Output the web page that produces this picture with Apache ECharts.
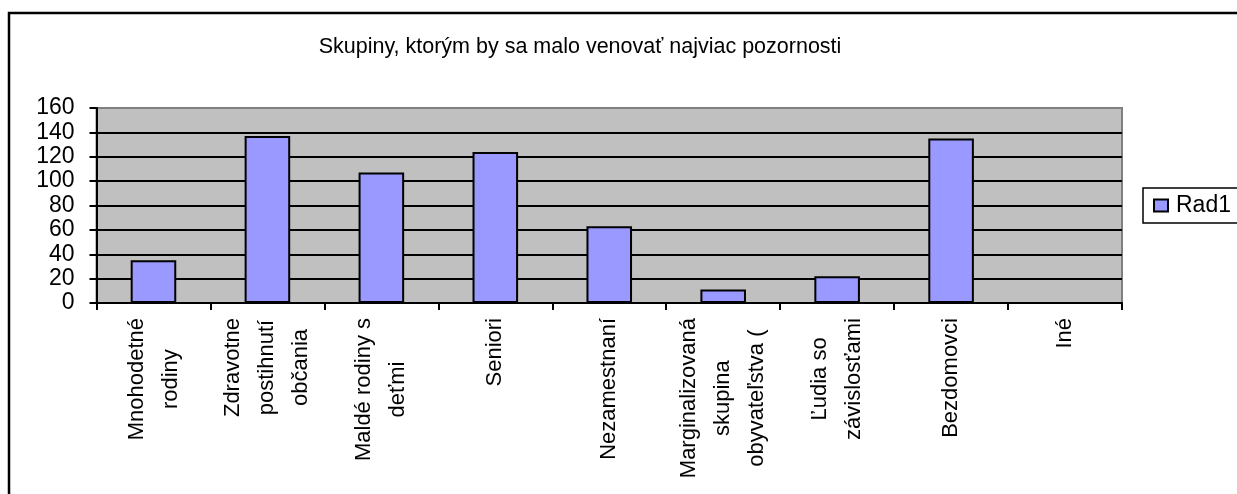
<!DOCTYPE html>
<html>
<head>
<meta charset="utf-8">
<script src="https://cdn.jsdelivr.net/npm/echarts@6/dist/echarts.min.js"></script>
<style>
    html, body { margin: 0; padding: 0; background: #fff; }
    #chart { width: 1237px; height: 494px; }
</style>
</head>
<body>
<div id="chart"></div>
<script>
// kategórie (popisky osi x)
const categories = [
    'Mnohodetné\nrodiny',
    'Zdravotne\npostihnutí\nobčania',
    'Maldé rodiny s\ndeťmi',
    'Seniori',
    'Nezamestnaní',
    'Marginalizovaná\nskupina\nobyvateľstva (',
    'Ľudia so\nzávislosťami',
    'Bezdomovci',
    'Iné'
];
const rad1 = [35, 137, 107, 124, 63, 11, 22, 135, 0];
const seriesName = 'Rad1';
const chartTitle = 'Skupiny, ktorým by sa malo venovať najviac pozornosti';
const yMin = 0;
const yMax = 160;
const yStep = 20;

const font = "'Liberation Sans', Arial, sans-serif";

let myChart = echarts.init(document.getElementById('chart'), null, { renderer: 'canvas' });
let option = {
    animation: false,
    textStyle: { fontFamily: font, color: '#000' },
    title: {
        text: chartTitle,
        left: 580,
        top: 36,
        padding: 0,
        textAlign: 'center',
        textStyle: { fontSize: 21.5, fontWeight: 'normal', color: '#000', fontFamily: font }
    },
    graphic: [
        {
            type: 'rect',
            shape: { x: 9, y: 13, width: 1300, height: 600 },
            style: { fill: 'none', stroke: '#000', lineWidth: 2.5 },
            silent: true
        }
    ],
    legend: {
        data: [seriesName],
        left: 1143,
        top: 188,
        orient: 'vertical',
        padding: [6, 8, 6, 10],
        borderColor: '#000',
        borderWidth: 1.5,
        icon: 'rect',
        itemWidth: 14,
        itemHeight: 12,
        itemGap: 0,
        textStyle: { fontSize: 23, color: '#000', fontFamily: font, padding: [0, 0, 0, 3] }
    },
    grid: { // plocha grafu
        left: 96.5,
        top: 108,
        right: 115,
        bottom: 191,
        show: true,
        backgroundColor: '#C0C0C0',
        borderColor: '#808080',
        borderWidth: 2
    },
    xAxis: {
        type: 'category',
        data: categories,
        axisLine: { show: true, lineStyle: { color: '#000', width: 2 } },
        axisTick: { show: true, length: 7, lineStyle: { color: '#000', width: 2 } },
        axisLabel: {
            interval: 0,
            rotate: 90,
            margin: 15,
            fontSize: 22,
            lineHeight: 34,
            color: '#000',
            fontFamily: font,
            formatter: function (value) {
                return value.split('\n').map(s => '{c|' + s + '}').join('\n');
            },
            rich: {
                c: { align: 'center', fontSize: 22, lineHeight: 34, color: '#000', fontFamily: font }
            }
        }
    },
    yAxis: {
        type: 'value',
        min: yMin,
        max: yMax,
        interval: yStep,
        axisLine: { show: true, lineStyle: { color: '#000', width: 2 } },
        axisTick: { show: true, length: 7, lineStyle: { color: '#000', width: 2 } },
        axisLabel: { fontSize: 23, margin: 22, color: '#000', fontFamily: font },
        splitLine: { show: true, showMaxLine: false, lineStyle: { color: '#000', width: 2 } }
    },
    series: [
        {
            name: seriesName,
            type: 'bar',
            data: rad1,
            barCategoryGap: '60%',
            itemStyle: { color: '#9999FF', borderColor: '#000', borderWidth: 2 }
        }
    ]
};
myChart.setOption(option);
</script>
</body>
</html>
